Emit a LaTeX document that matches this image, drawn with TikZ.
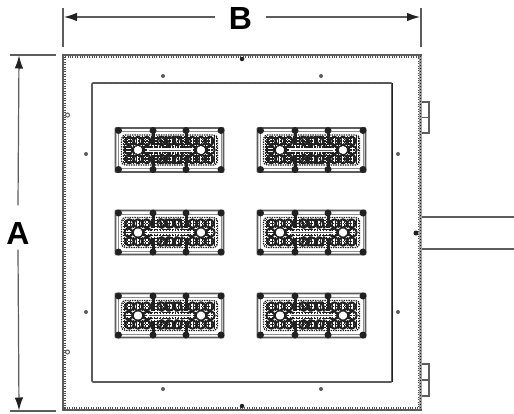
\documentclass[tikz,border=0pt]{standalone}
\usepackage{fontspec}
\setmainfont{Liberation Sans}
\usetikzlibrary{arrows.meta}
\definecolor{ln}{gray}{0.36}
\definecolor{dk}{gray}{0.13}
\tikzset{
  dimline/.style={draw=ln,line width=1.2pt},
  dimhalf/.style={dimline,-{Latex[length=13pt,width=8.5pt,color=dk]}},
  letter/.style={inner sep=0pt,font=\fontsize{32}{32}\selectfont\bfseries,text=black},
  plate/.style={draw=ln,line width=1.7pt},
  rivets/.style={draw=dk!80,line width=1.4pt,dash pattern=on 1pt off 1.4pt},
  screw/.style={circle,fill=ln,inner sep=0pt,minimum size=4pt},
  ringscrew/.style={circle,draw=ln,line width=1pt,fill=white,inner sep=0pt,minimum size=4pt},
  hinge/.style={draw=ln,line width=1.3pt},
  pipe/.style={draw=ln,line width=1.7pt},
  bolt/.style={circle,fill=dk,inner sep=0pt,minimum size=7pt},
  pics/lamp/.style={code={
    \draw[draw=ln,line width=1.7pt,rounded corners=.5pt] (0,0) rectangle (108,44);
    \draw[draw=ln!70,line width=1pt] (2.5,3.5) rectangle (105.5,40.5);
    % dense grid
    \draw[draw=dk,line width=1.3pt,dash pattern=on 1.4pt off 1pt,rounded corners=4pt] (6,7) rectangle (102,37);
    \foreach \gx in {9,12,...,99}{\draw[draw=dk,line width=1.3pt,dash pattern=on 1.8pt off .8pt] (\gx,8) -- (\gx,36);}
    \foreach \gy in {10,13,...,35}{\draw[draw=dk,line width=1.1pt,dash pattern=on 1.8pt off .8pt] (7,\gy) -- (101,\gy);}
    % dark clusters
    \foreach \cx in {14,22.5,31,46,54,62,77,85.5,94}{
      \draw[draw=dk,line width=1.9pt] (\cx,13) circle[radius=4.2pt];
      \draw[draw=dk,line width=1.9pt] (\cx,31) circle[radius=4.2pt];
    }
    \foreach \cx in {13,32,76,95}{\draw[draw=dk,line width=1.9pt] (\cx,22) circle[radius=4.2pt];}
    \foreach \cx in {37.5,70.5}{\draw[draw=dk,line width=3pt] (\cx,5) -- (\cx,17); \draw[draw=dk,line width=3pt] (\cx,27) -- (\cx,39);}
    \foreach \cx in {44,50,58,64}{\draw[draw=dk,line width=2.2pt] (\cx,8) -- (\cx+3,18); \draw[draw=dk,line width=2.2pt] (\cx,36) -- (\cx+3,26);}
    % centre strip
    \fill[white] (31,20.3) rectangle (77,23.7);
    \draw[draw=ln,line width=1pt] (33,22) -- (75,22);
    % white lamps
    \fill[white] (22.5,22) circle[radius=4pt];
    \fill[white] (85.5,22) circle[radius=4pt];
    \draw[draw=dk,line width=1.1pt] (22.5,22) circle[radius=5pt];
    \draw[draw=dk,line width=1.1pt] (85.5,22) circle[radius=5pt];
    % corner and edge bolts
    \foreach \bx in {3,37.5,70.5,105.5}{
      \node[bolt] at (\bx,2.5) {};
      \node[bolt] at (\bx,41.5) {};
    }
  }}
}
\begin{document}
\begin{tikzpicture}[x=1pt,y=-1pt]
\useasboundingbox[fill=white] (0,0) rectangle (514,413);

% housing
\coordinate (tl) at (63,55);
\coordinate (tr) at (421,55);
\coordinate (bl) at (63,410);
\coordinate (br) at (421,410);
\draw[rivets] (65,57) rectangle (419,408);
\draw[plate] (tl) rectangle (br);
\draw[draw=ln!60,line width=2.6pt] (420.5,56) -- (420.5,409);
\draw[draw=dk,line width=1pt,dash pattern=on 1pt off 2pt] (420,56) -- (420,409);
\draw[plate,rounded corners=1pt] (92,83) rectangle (392,382);
\draw[draw=dk!80,line width=.9pt,dash pattern=on 1pt off 1.4pt] (92,83.7) -- (392,83.7);
\draw[draw=dk,line width=1pt] (392,83) -- (392,382);

% panels
\foreach \px in {115.5,257.5}{
  \foreach \py in {128,210.5,293.5}{
    \pic at (\px,\py) {lamp};
  }
}

% screws
\foreach \sx/\sy in {163/76,321/76,163/389,321/389,86/154,86/312,398/154,398/312}{
  \node[screw] at (\sx,\sy) {};
}
\node[screw,fill=dk,minimum size=4.5pt] at (242,59) {};
\node[screw,fill=dk,minimum size=4.5pt] at (242,406) {};
\node[screw,fill=dk,minimum size=5pt] at (416,233) {};
\node[ringscrew] at (67.5,115) {};
\node[ringscrew] at (67.5,352) {};

% hinges
\draw[hinge] (422,102) -- (429,102) -- (429,133) -- (422,133);
\draw[hinge] (422,117.5) -- (429,117.5);
\draw[hinge] (422,364) -- (429,364) -- (429,396) -- (422,396);
\draw[hinge] (422,380) -- (429,380);

% pipes
\coordinate (p1a) at (422,217);
\coordinate (p1b) at (514,217);
\coordinate (p2a) at (422,249);
\coordinate (p2b) at (514,249);
\draw[pipe] (p1a) -- (p1b);
\draw[pipe] (p2a) -- (p2b);

% dimensions
\coordinate (bext1a) at (63,8);
\coordinate (bext1b) at (63,47);
\coordinate (bext2a) at (421,8);
\coordinate (bext2b) at (421,47);
\coordinate (aext1a) at (10,55);
\coordinate (aext1b) at (56,55);
\coordinate (aext2a) at (10,411);
\coordinate (aext2b) at (56,411);
\coordinate (bl1) at (64,17);
\coordinate (bl2) at (420,17);
\coordinate (al1) at (19,55.5);
\coordinate (al2) at (19,410.5);
\draw[dimline] (bext1a) -- (bext1b);
\draw[dimline] (bext2a) -- (bext2b);
\draw[dimline] (aext1a) -- (aext1b);
\draw[dimline] (aext2a) -- (aext2b);

\node[letter] (lb) at (240.5,18.5) {B};
\node[letter] (la) at (18,233.5) {A};
\draw[dimhalf] (lb.west) ++(-14,-1.5) coordinate (lbw) -- (bl1);
\draw[dimhalf] (lb.east) ++(14,-1.5) coordinate (lbe) -- (bl2);
\draw[dimhalf] (la.north) ++(0,-17) coordinate (lan) -- (al1);
\draw[dimhalf] (la.south) ++(0,5) coordinate (las) -- (al2);
\end{tikzpicture}
\end{document}
